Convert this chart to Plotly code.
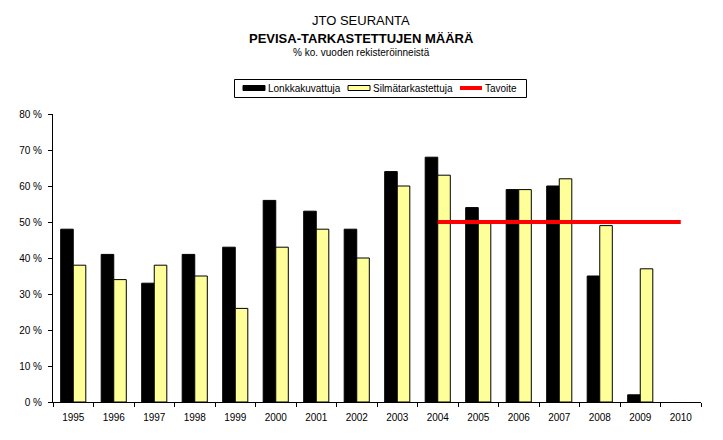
import plotly.graph_objects as go

years = ["1995", "1996", "1997", "1998", "1999", "2000", "2001", "2002",
         "2003", "2004", "2005", "2006", "2007", "2008", "2009", "2010"]
lonkka = [48, 41, 33, 41, 43, 56, 53, 48, 64, 68, 54, 59, 60, 35, 2, None]
silma = [38, 34, 38, 35, 26, 43, 48, 40, 60, 63, 50, 59, 62, 49, 37, None]
tavoite = [None, None, None, None, None, None, None, None, None,
           50, 50, 50, 50, 50, 50, 50]
series_names = ["Lonkkakuvattuja", "Silmätarkastettuja", "Tavoite"]

FONT = "Liberation Sans, Arial, sans-serif"
W, H = 723, 440
ML, MR, MT, MB = 53, 22, 114, 38
plot_w = W - ML - MR
plot_h = H - MT - MB


def px(xp):
    return (xp - ML) / plot_w


def py(yp):
    return (H - MB - yp) / plot_h


fig = go.Figure()
fig.add_trace(go.Bar(x=years, y=lonkka, name=series_names[0],
                     marker=dict(color="black", line=dict(color="black", width=1))))
fig.add_trace(go.Bar(x=years, y=silma, name=series_names[1],
                     marker=dict(color="#FFFF99", line=dict(color="black", width=1))))
fig.add_trace(go.Scatter(x=years, y=tavoite, name=series_names[2], mode="lines",
                         line=dict(color="#FF0000", width=4), connectgaps=False))

shapes = []
annotations = []

# Legend (drawn manually to match the compact original)
shapes.append(dict(type="rect", xref="paper", yref="paper",
                   x0=px(234.5), x1=px(526.5), y0=py(79.5), y1=py(97.5),
                   line=dict(color="black", width=1), fillcolor="white", layer="above"))
leg_y = 88
shapes.append(dict(type="rect", xref="paper", yref="paper",
                   x0=px(243), x1=px(265), y0=py(leg_y - 2.5), y1=py(leg_y + 2.5),
                   line=dict(color="black", width=1), fillcolor="black", layer="above"))
shapes.append(dict(type="rect", xref="paper", yref="paper",
                   x0=px(348), x1=px(370), y0=py(leg_y - 2.5), y1=py(leg_y + 2.5),
                   line=dict(color="black", width=1), fillcolor="#FFFF99", layer="above"))
shapes.append(dict(type="line", xref="paper", yref="paper",
                   x0=px(460), x1=px(482), y0=py(leg_y), y1=py(leg_y),
                   line=dict(color="#FF0000", width=4), layer="above"))
for name, xl in zip(series_names, [266, 371, 483]):
    annotations.append(dict(text=name, x=px(xl), y=py(leg_y), xref="paper", yref="paper",
                            xanchor="left", yanchor="middle", showarrow=False,
                            font=dict(size=10, family=FONT, color="black")))

# Titles
cx = px(361)
annotations.append(dict(text="JTO SEURANTA", x=cx, y=py(20), xref="paper", yref="paper",
                        yanchor="middle", showarrow=False, font=dict(size=13, family=FONT)))
annotations.append(dict(text="<b>PEVISA-TARKASTETTUJEN MÄÄRÄ</b>", x=cx, y=py(38),
                        xref="paper", yref="paper", yanchor="middle", showarrow=False,
                        font=dict(size=13, family=FONT)))
annotations.append(dict(text="% ko. vuoden rekisteröinneistä", x=cx, y=py(53),
                        xref="paper", yref="paper", yanchor="middle", showarrow=False,
                        font=dict(size=10, family=FONT)))

fig.update_layout(
    width=W, height=H,
    margin=dict(l=ML, r=MR, t=MT, b=MB),
    paper_bgcolor="white", plot_bgcolor="white",
    font=dict(family=FONT, size=10, color="black"),
    barmode="group", bargap=0.38, bargroupgap=0,
    showlegend=False,
    xaxis=dict(type="category", showline=True, linecolor="black", linewidth=1,
               ticks="outside", tickson="boundaries", ticklen=4, tickcolor="black",
               showgrid=False, tickfont=dict(size=10), ticklabelstandoff=6),
    yaxis=dict(range=[0, 80], dtick=10, ticksuffix=" %", showline=True,
               linecolor="black", linewidth=1, ticks="outside", ticklen=4,
               tickcolor="black", showgrid=False, zeroline=False,
               tickfont=dict(size=10), ticklabelstandoff=4),
    shapes=shapes,
    annotations=annotations,
)

fig.write_html("out.html")
